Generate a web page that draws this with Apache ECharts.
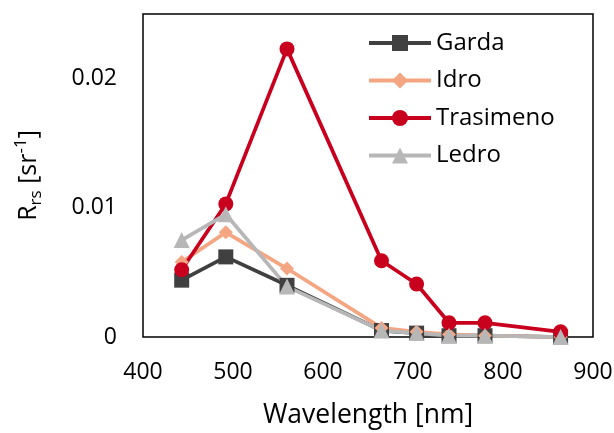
<!DOCTYPE html>
<html>
<head>
<meta charset="utf-8">
<script src="https://cdn.jsdelivr.net/npm/echarts@6/dist/echarts.min.js"></script>
<style>
  html, body { margin: 0; padding: 0; background: #fff; }
  #chart { width: 614px; height: 433px; }
</style>
</head>
<body>
<div id="chart"></div>
<script>
// Remote-sensing reflectance spectra of four lakes
const wavelengths = [443, 492, 560, 665, 704, 740, 780, 864];
const garda     = [0.0044, 0.0062, 0.0040, 0.0005, 0.0003, 0.0001, 0.0001, 0.0000];
const idro      = [0.0058, 0.0081, 0.0053, 0.0007, 0.0004, 0.0002, 0.0001, 0.0000];
const trasimeno = [0.0052, 0.0103, 0.0223, 0.0059, 0.0041, 0.0011, 0.0011, 0.0004];
const ledro     = [0.0075, 0.0095, 0.0039, 0.0005, 0.0003, 0.0001, 0.0001, 0.0000];

const FONT = 'Open Sans';

function pairs(vals) {
  return wavelengths.map((w, i) => [w, vals[i]]);
}

function lineSeries(name, vals, color, symbol, size) {
  return {
    name: name,
    type: 'line',
    data: pairs(vals),
    symbol: symbol,
    symbolSize: size,
    showAllSymbol: true,
    lineStyle: { color: color, width: 3.75 },
    itemStyle: { color: color },
    emphasis: { disabled: true }
  };
}

const chart = echarts.init(document.getElementById('chart'));
chart.setOption({
  animation: false,
  textStyle: { fontFamily: FONT },
  grid: {
    left: 143, right: 21, top: 14, bottom: 96,
    outerBoundsMode: 'none',
    containLabel: false,
    show: true, borderColor: '#000', borderWidth: 1.5
  },
  legend: {
    orient: 'vertical',
    left: 367, top: 31,
    padding: 0,
    itemWidth: 62, itemHeight: 20, itemGap: 13.5,
    lineStyle: { width: 4 },
    textStyle: { fontFamily: FONT, fontSize: 24, color: '#000', padding: [0, 0, 0, 0] },
    data: ['Garda', 'Idro', 'Trasimeno', 'Ledro']
  },
  xAxis: {
    type: 'value',
    min: 400, max: 900, interval: 100,
    axisLine: { show: false },
    axisTick: { show: false },
    splitLine: { show: false },
    axisLabel: { fontFamily: FONT, fontSize: 23, color: '#000', margin: 24 },
    name: 'Wavelength [nm]',
    nameLocation: 'middle',
    nameGap: 65,
    nameTextStyle: { fontFamily: FONT, fontSize: 26.5, color: '#000' }
  },
  yAxis: {
    type: 'value',
    min: 0, max: 0.025, interval: 0.01,
    axisLine: { show: false },
    axisTick: { show: false },
    splitLine: { show: false },
    axisLabel: {
      fontFamily: FONT, fontSize: 23, color: '#000', margin: 26,
      showMaxLabel: false,
      formatter: v => (Math.abs(v - 0.025) < 1e-9 ? '' : String(+v.toFixed(3)))
    },
    name: '{m|R}{sub|rs}{m| [sr}{sup|-1}{m|]}',
    nameLocation: 'middle',
    nameGap: 98,
    nameRotate: 90,
    nameTextStyle: {
      color: '#000',
      rich: {
        m:   { fontFamily: FONT, fontSize: 25, color: '#000', lineHeight: 32 },
        sub: { fontFamily: FONT, fontSize: 17, color: '#000', verticalAlign: 'bottom', lineHeight: 32 },
        sup: { fontFamily: FONT, fontSize: 17, color: '#000', verticalAlign: 'top', lineHeight: 32 }
      }
    }
  },
  series: [
    lineSeries('Garda', garda, '#404040', 'rect', 15),
    lineSeries('Idro', idro, '#F4A582', 'diamond', 14),
    lineSeries('Trasimeno', trasimeno, '#C8001E', 'circle', 15),
    lineSeries('Ledro', ledro, '#B7B7B7', 'triangle', 16)
  ]
});
</script>
</body>
</html>
